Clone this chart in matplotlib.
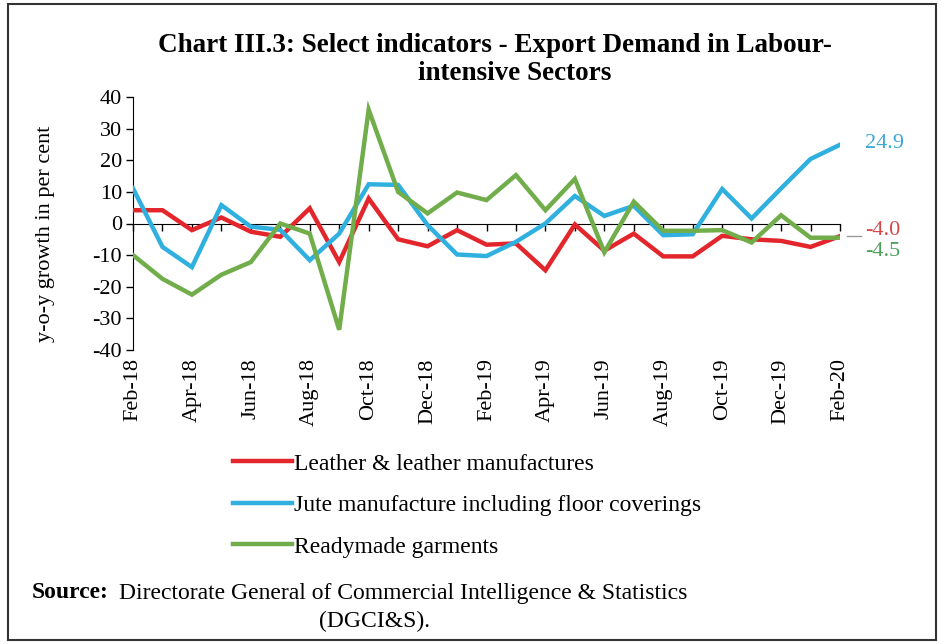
import matplotlib
matplotlib.use("Agg")
import matplotlib.pyplot as plt
from matplotlib.patches import Rectangle

plt.rcParams['font.family'] = ['Liberation Serif', 'DejaVu Serif']
plt.rcParams['axes.unicode_minus'] = False

months = ['Feb-18', 'Mar-18', 'Apr-18', 'May-18', 'Jun-18', 'Jul-18', 'Aug-18', 'Sep-18',
          'Oct-18', 'Nov-18', 'Dec-18', 'Jan-19', 'Feb-19', 'Mar-19', 'Apr-19', 'May-19',
          'Jun-19', 'Jul-19', 'Aug-19', 'Sep-19', 'Oct-19', 'Nov-19', 'Dec-19', 'Jan-20', 'Feb-20']

leather = [4.2, 4.2, -2.1, 1.9, -2.6, -4.2, 4.8, -12.2, 7.9, -5.0, -7.2, -2.1, -6.7,
           -6.3, -14.8, -0.3, -8.6, -3.2, -10.4, -10.4, -3.9, -5.0, -5.5, -7.4, -4.0]
jute = [11.1, -7.4, -13.8, 5.8, -1.0, -2.0, -11.6, -3.2, 12.4, 12.2, -0.5, -9.8, -10.3,
        -5.8, 0.0, 8.7, 2.4, 5.6, -3.7, -3.4, 10.9, 1.6, 11.1, 20.4, 24.9]
garments = [-10.0, -17.5, -22.5, -16.2, -12.2, 0.0, -3.2, -33.6, 36.0, 10.0, 3.2, 9.8, 7.4,
            15.3, 4.2, 14.1, -9.1, 6.9, -2.3, -2.3, -2.1, -6.0, 2.6, -4.5, -4.5]

series_names = ['Leather & leather manufactures',
                'Jute manufacture including floor coverings',
                'Readymade garments']
colors = ['#e3262b', '#2fb0df', '#72ad4c']
label_colors = ['#d9474a', '#3aa9d6', '#4f9e5a']

fig = plt.figure(figsize=(9.41, 6.44), dpi=100)
ax = fig.add_axes([133 / 941, 1 - 350 / 644, 707 / 941, 253 / 644])

x = list(range(len(months)))
for vals, name, c in zip([leather, jute, garments], series_names, colors):
    ax.plot(x, vals, color=c, lw=3.2, label=name, solid_joinstyle='miter', zorder=3)

ax.set_xlim(0, len(months) - 1)
ax.set_ylim(-40, 40)
ax.set_yticks(range(-40, 41, 10))
ax.tick_params(axis='y', direction='out', length=5, width=1, labelsize=16, pad=3)

# zero line carries the monthly ticks
ax.spines['bottom'].set_position(('data', 0))
ax.spines['top'].set_visible(False)
ax.spines['right'].set_visible(False)
ax.set_xticks(x)
ax.tick_params(axis='x', direction='out', length=5, width=1, labelbottom=False)

# month labels at the bottom of the plot
sec = ax.secondary_xaxis(0.0)
sec.set_xticks(x[::2], months[::2], rotation=90)
sec.tick_params(length=0, pad=6, labelsize=16)
sec.spines['bottom'].set_visible(False)

ax.set_ylabel('y-o-y growth in per cent', fontsize=16)
ax.yaxis.set_label_coords(-0.11, 0.46)

# end values
ax.plot([24.25, 24.7], [-4.0, -4.0], color='#999999', lw=1, clip_on=False)
ax.text(24.85, jute[-1] + 0.5, f'{jute[-1]:.1f}', color=label_colors[1], fontsize=16,
        va='center', ha='left', clip_on=False)
ax.text(24.85, -2.3, f'{leather[-1]:.1f}', color=label_colors[0], fontsize=16,
        va='center', ha='left', clip_on=False)
ax.text(24.85, -8.9, f'{garments[-1]:.1f}', color=label_colors[2], fontsize=16,
        va='center', ha='left', clip_on=False)

fig.text(495 / 941, 1 - 46 / 644, 'Chart III.3: Select indicators - Export Demand in Labour-',
         ha='center', va='center', fontsize=19.5, fontweight='bold')
fig.text(515 / 941, 1 - 74 / 644, 'intensive Sectors',
         ha='center', va='center', fontsize=19.5, fontweight='bold')

fig.legend(loc='upper left', bbox_to_anchor=(233 / 941, 1 - 453 / 644), frameon=False,
           fontsize=17, handlelength=2.5, handletextpad=0.1, labelspacing=0.85,
           borderpad=0, borderaxespad=0)

fig.text(32 / 941, 1 - 593 / 644, 'Source:', fontsize=17, fontweight='bold', va='center')
fig.text(119 / 941, 1 - 593 / 644, 'Directorate General of Commercial Intelligence & Statistics',
         fontsize=17, va='center')
fig.text(375 / 941, 1 - 621 / 644, '(DGCI&S).', fontsize=17, va='center', ha='center')

fig.patches.append(Rectangle((8 / 941, 4 / 644), 928 / 941, 636 / 644, transform=fig.transFigure,
                             fill=False, edgecolor='#333333', lw=1.5))

fig.savefig('out.png', dpi=100)
